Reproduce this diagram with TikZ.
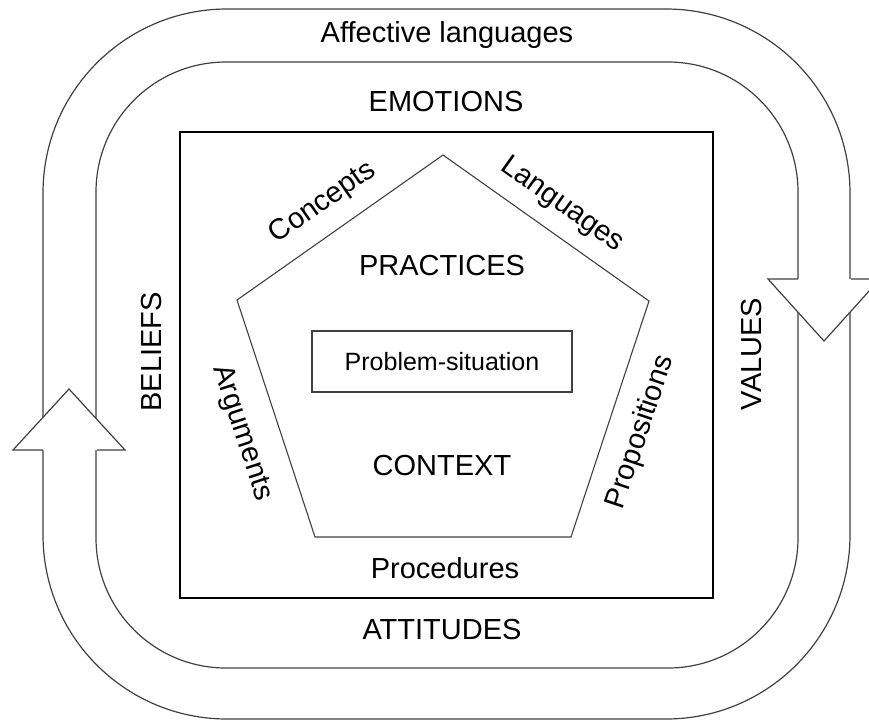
\documentclass[tikz,border=0pt]{standalone}
\usepackage{fontspec}
\setmainfont{Liberation Sans}
\tikzset{
  band/.style={draw=black!75, line width=0.6pt},
  lbl/.style={inner sep=0pt, font=\fontsize{14.5}{17}\selectfont},
}
\begin{document}
\begin{tikzpicture}[x=0.5pt, y=-0.5pt]
\clip (0,0) rectangle (869,720);

\draw[band, rounded corners=92pt] (43,9) rectangle (850,719);
\draw[band, rounded corners=65pt] (96,62) rectangle (798,668);

\fill[white] (768,279) -- (880,279) -- (824,341) -- cycle;
\draw[band] (798,279) -- (768,279) -- (824,341) -- (880,279) -- (851,279);
\fill[white] (13,450) -- (125,450) -- (69,389) -- cycle;
\draw[band] (43,450) -- (13,450) -- (69,389) -- (125,450) -- (97,450);

\draw[line width=0.55pt] (180,132) rectangle (713,598);
\draw[band, line width=0.55pt] (443,155) -- (649,301) -- (571,537) -- (315,537) -- (237,300) -- cycle;

\node[lbl] (affnode) at (447,35) {Affective languages};
\node[lbl] (emonode) at (446,102) {EMOTIONS};
\node[lbl] (attnode) at (442,630) {ATTITUDES};
\node[lbl, rotate=90] (belnode) at (152,352) {BELIEFS};
\node[lbl, rotate=90] (valnode) at (752,354) {VALUES};

\node[lbl] (pracnode) at (442,266) {PRACTICES};
\node[lbl] (ctxnode) at (442,466) {CONTEXT};
\node[lbl] (procnode) at (445,568) {Procedures};
\node[draw=black!75, line width=0.55pt, minimum width=130pt, minimum height=30.5pt, inner sep=0pt,
  font=\fontsize{12.5}{15}\selectfont] (probnode) at (442,361.5) {Problem-situation};

\node[lbl, rotate=35] (concnode) at (323,203) {Concepts};
\node[lbl, rotate=-35.5] (langnode) at (562,205) {Languages};
\node[lbl, rotate=-72] (argnode) at (242,433) {Arguments};
\node[lbl, rotate=71.5] (propnode) at (641,432) {Propositions};

\end{tikzpicture}
\end{document}
